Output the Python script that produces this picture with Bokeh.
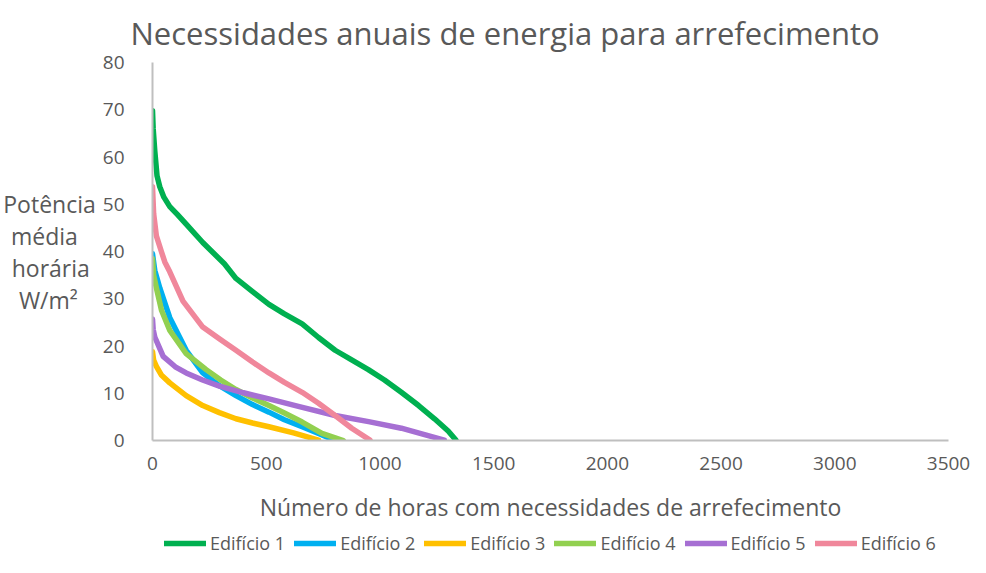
from bokeh.plotting import figure
from bokeh.layouts import column
from bokeh.models import Range1d, Legend, LegendItem, SingleIntervalTicker
from bokeh.embed import file_html
from bokeh.resources import INLINE

# ---- data ----
series_names = ["Edifício 1", "Edifício 2", "Edifício 3", "Edifício 4", "Edifício 5", "Edifício 6"]

e1_x = [0, 3, 10, 20, 32, 50, 76, 110, 148, 221, 316, 367, 440, 512, 580, 658, 730, 803, 870, 949, 1020, 1094, 1170, 1240, 1300, 1334]
e1_y = [69.8, 66, 61.3, 56, 53.7, 51.5, 49.5, 47.8, 45.8, 41.9, 37.4, 34.3, 31.5, 28.8, 26.8, 24.7, 21.8, 19.1, 17.2, 15.0, 12.8, 10.2, 7.4, 4.6, 2.0, 0.1]

e2_x = [0, 10, 32, 76, 148, 221, 294, 367, 440, 512, 580, 658, 730, 803]
e2_y = [39.5, 36, 32.3, 26.0, 19.1, 14.3, 11.6, 9.5, 7.6, 6.0, 4.4, 2.9, 1.5, 0.0]

e3_x = [0, 5, 17, 40, 76, 148, 221, 294, 367, 440, 512, 620, 730]
e3_y = [18.8, 17, 15.7, 13.8, 12.2, 9.5, 7.4, 5.9, 4.6, 3.7, 2.9, 1.6, 0.1]

e4_x = [0, 5, 17, 40, 76, 148, 236, 300, 367, 440, 512, 580, 658, 745, 839]
e4_y = [38.5, 35, 32.3, 27.5, 23.3, 18.4, 15.0, 12.8, 10.8, 9.0, 7.4, 5.8, 3.9, 1.5, 0.0]

e5_x = [0, 3, 10, 47, 100, 148, 220, 294, 400, 512, 650, 803, 950, 1094, 1200, 1283]
e5_y = [25.7, 23.5, 21.9, 17.8, 15.6, 14.3, 12.8, 11.5, 10.1, 8.8, 7.1, 5.3, 4.0, 2.6, 1.2, 0.1]

e6_x = [0, 5, 17, 39, 54, 76, 134, 221, 300, 367, 440, 512, 580, 658, 730, 803, 876, 956]
e6_y = [53.7, 48, 43.3, 40, 37.8, 35.7, 29.5, 24.0, 21.3, 19.1, 16.6, 14.3, 12.3, 10.2, 7.9, 5.3, 2.6, 0.1]

colors = ["#00B050", "#00B0F0", "#FFC000", "#92D050", "#A66FD3", "#F0879B"]

FONT = "Open Sans"
GREY = "#595959"
NB = "\u00a0"

p = figure(frame_width=796, frame_height=378, output_backend="svg", toolbar_location=None,
           x_range=Range1d(0, 3500), y_range=Range1d(0, 80),
           min_border_left=150, min_border_right=24, min_border_top=60, min_border_bottom=90)

p.title.text = "Necessidades anuais de energia para arrefecimento"
p.title.align = "left"
p.title.offset = -22
p.title.standoff = 18
p.title.text_font = FONT
p.title.text_font_size = "31px"
p.title.text_font_style = "normal"
p.title.text_color = GREY

p.outline_line_color = None
p.grid.grid_line_color = None

p.xaxis.ticker = SingleIntervalTicker(interval=500)
p.yaxis.ticker = SingleIntervalTicker(interval=10)
for ax in (p.xaxis, p.yaxis):
    ax.axis_line_color = "#BFBFBF"
    ax.axis_line_width = 2
    ax.major_tick_line_color = None
    ax.minor_tick_line_color = None
    ax.major_label_text_font = FONT
    ax.major_label_text_font_size = "19px"
    ax.major_label_text_color = GREY
    ax.axis_label_text_font = FONT
    ax.axis_label_text_font_size = "23px"
    ax.axis_label_text_font_style = "normal"
    ax.axis_label_text_color = GREY

p.yaxis.major_label_standoff = 22
p.xaxis.major_label_standoff = 10
p.xaxis.axis_label = "Número de horas com necessidades de arrefecimento"
p.xaxis.axis_label_standoff = 18
p.yaxis.axis_label = ("Potência\nmédia" + NB * 3 + "\nhorária" + NB + "\nW/m²" + NB * 3)
p.yaxis.axis_label_orientation = "horizontal"
p.yaxis.axis_label_text_line_height = 1.0
p.yaxis.axis_label_standoff = 4

xs = [e1_x, e2_x, e3_x, e4_x, e5_x, e6_x]
ys = [e1_y, e2_y, e3_y, e4_y, e5_y, e6_y]
for name, x, y, c in zip(series_names, xs, ys, colors):
    p.line(x, y, line_color=c, line_width=5.5, line_cap="round", line_join="round")

# legend strip below the chart (its lines lie outside its ranges, only the key shows)
lf = figure(width=970, height=29, output_backend="svg", toolbar_location=None,
            x_range=Range1d(-2, -1), y_range=Range1d(-2, -1), min_border=0,
            x_axis_type=None, y_axis_type=None)
lf.grid.grid_line_color = None
lf.outline_line_color = None
items = []
for name, x, y, c in zip(series_names, xs, ys, colors):
    r = lf.line(x, y, line_color=c, line_width=5.5, line_cap="round")
    items.append(LegendItem(label=name, renderers=[r]))
legend = Legend(items=items, orientation="horizontal", location=(12, 4),
                label_text_font=FONT, label_text_font_size="18px", label_text_color=GREY,
                glyph_width=42, glyph_height=20, label_standoff=4, spacing=9,
                border_line_color=None, background_fill_alpha=0, margin=0, padding=0)
lf.add_layout(legend, "center")

layout = column(p, lf, spacing=0)
open("out.html", "w").write(file_html(layout, INLINE))
